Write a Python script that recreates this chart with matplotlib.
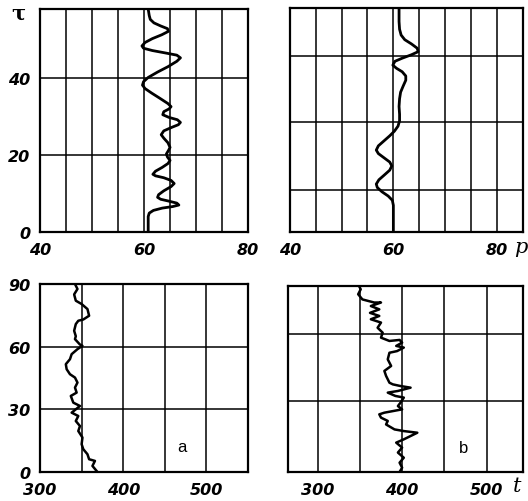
import matplotlib
matplotlib.use("Agg")
import matplotlib.pyplot as plt

# panel (upper left): p against tau
p_a = [60.8, 60.8, 61.0, 61.8, 63.5, 65.5, 66.7, 66.3, 64.8, 63.2, 62.6, 62.8, 63.8,
       65.2, 65.8, 65.2, 63.8, 62.2, 61.7, 62.2, 63.5, 64.6, 65.0, 64.5, 64.3, 64.7,
       65.0, 64.6, 63.8, 63.3, 63.8, 65.3, 66.6, 67.0, 66.4, 64.8, 63.6, 63.8, 64.8,
       65.2, 64.6, 62.9, 61.5, 60.2, 59.7, 59.9, 60.8, 62.6, 64.6, 66.3, 67.0, 66.3,
       64.0, 61.6, 59.9, 59.6, 60.2, 61.6, 63.4, 64.7, 64.5, 63.2, 61.9, 61.2, 61.0, 60.8]
tau_a = [0, 4.0, 4.9, 5.6, 6.2, 6.6, 7.0, 7.5, 8.0, 8.5, 9.0, 9.7, 10.7,
         11.8, 12.6, 13.4, 14.1, 14.6, 15.0, 15.8, 16.8, 17.8, 18.6, 19.5, 20.3, 21.2,
         22.0, 23.2, 24.4, 25.3, 26.3, 27.2, 27.9, 28.5, 29.2, 29.8, 30.5, 31.3, 32.0,
         32.6, 33.4, 34.9, 36.1, 37.3, 38.2, 39.1, 40.2, 41.6, 43.0, 44.4, 45.3, 46.0,
         46.6, 47.2, 47.8, 48.4, 49.3, 50.3, 51.3, 52.2, 52.9, 53.6, 54.4, 55.3, 56.3, 58.0]

# panel (upper right)
p_b = [60.0, 60.0, 59.8, 59.0, 57.8, 56.9, 56.7, 57.2, 58.3, 59.3, 59.7, 59.3, 58.2,
       57.1, 56.7, 57.1, 58.2, 59.3, 60.2, 60.9, 61.2, 61.2, 61.1, 61.2, 61.4, 61.9,
       62.4, 62.4, 61.7, 60.6, 59.9, 60.3, 61.7, 63.5, 64.8, 64.6, 63.5, 62.2, 61.5,
       61.2, 61.1, 61.1]
tau_b = [0, 6.9, 8.2, 9.3, 10.4, 11.5, 12.4, 13.5, 14.8, 16.0, 17.1, 18.1, 19.2,
         20.3, 21.2, 22.3, 23.6, 24.9, 26.1, 27.4, 28.8, 30.5, 32.5, 34.5, 36.2, 37.8,
         39.3, 40.4, 41.5, 42.4, 43.2, 44.2, 45.0, 45.9, 46.7, 47.6, 48.7, 49.8, 51.0,
         52.5, 54.5, 58.0]

# panel a (lower left): t against tau
t_a = [342, 345, 341, 343, 350, 357, 359, 352, 346, 343, 341, 343, 342, 348, 351,
       345, 338, 336, 331, 332, 336, 342, 345, 342, 344, 337, 340, 348, 338, 346,
       343, 348, 346, 351, 350, 352, 357, 359, 366, 363, 368]
tau_ta = [90, 87.6, 85, 82, 80.4, 78, 74.8, 73, 72.4, 70.8, 67.6, 65, 63.6, 61, 60.4,
          58.8, 56.4, 54, 51.6, 49.2, 46.8, 45.2, 42.8, 40.4, 38, 36.4, 33.2, 31.6, 28.4, 26.8,
          24.4, 22, 19.6, 16.5, 13.3, 10.9, 8.5, 6.1, 5.3, 2.9, 0.5]

# panel b (lower right)
t_b = [349, 351, 348, 353, 367, 375, 363, 373, 362, 373, 363, 375, 371, 377, 375,
       385, 397, 400, 393, 402, 394, 385, 383, 387, 379, 381, 385, 389, 398, 410,
       395, 383, 392, 402, 398, 395, 400, 379, 373, 375, 383, 381, 391, 402, 418,
       410, 402, 393, 400, 395, 402, 397, 400, 397]
tau_tb = [90, 88.4, 86, 83.5, 82, 82, 80.3, 78.7, 77, 75.5, 73.9, 72.3, 69.8, 67.4, 65,
          63.4, 63.9, 62.6, 61, 60.2, 58.5, 57.7, 54.5, 51.3, 48.9, 46.5, 43.2, 42.4, 41.6, 40.8,
          39.2, 38.4, 36.8, 36, 33.5, 31.9, 30.3, 28.7, 27.9, 26.3, 24.7, 23, 20.6, 19.8, 19,
          17.4, 15.8, 14.2, 11.8, 9.4, 6.9, 4.5, 2.1, 0]

tick_font = dict(family="DejaVu Sans", style="italic", weight="bold", size=11.5)

fig = plt.figure(figsize=(5.28, 5.02), dpi=100)

ax1 = fig.add_axes([0.0758, 0.536, 0.394, 0.444])
ax2 = fig.add_axes([0.549, 0.536, 0.441, 0.446])
ax3 = fig.add_axes([0.0758, 0.0578, 0.394, 0.3745])
ax4 = fig.add_axes([0.5455, 0.0578, 0.445, 0.3705])

for ax in [ax1, ax2, ax3, ax4]:
    for s in ax.spines.values():
        s.set_linewidth(1.6)
    ax.grid(True, color="black", linewidth=1.1)
    ax.tick_params(length=0, pad=7)
    ax.set_axisbelow(True)

ax1.plot(p_a, tau_a, color="black", linewidth=2)
ax1.set_xlim(40, 80)
ax1.set_ylim(0, 58)
ax1.set_xticks(range(40, 81, 5))
ax1.set_xticklabels(["40", "", "", "", "60", "", "", "", "80"], **tick_font)
ax1.set_yticks([0, 20, 40])
ax1.set_yticklabels(["0", "20", "40"], **tick_font)
ax1.text(-0.07, 0.985, "τ", transform=ax1.transAxes, ha="right", va="center",
         family="DejaVu Serif", weight="bold", size=15)

ax2.plot(p_b, tau_b, color="black", linewidth=2)
ax2.set_xlim(40, 85)
ax2.set_ylim(0, 58)
ax2.set_xticks(range(40, 86, 5))
ax2.set_xticklabels(["40", "", "", "", "60", "", "", "", "80", ""], **tick_font)
ax2.set_yticks([10.9, 28.5, 45.6])
ax2.set_yticklabels([])
ax2.text(0.99, -0.065, "p", transform=ax2.transAxes, ha="center", va="center",
         style="italic", family="DejaVu Serif", size=15)

ax3.plot(t_a, tau_ta, color="black", linewidth=1.8)
ax3.set_xlim(300, 550)
ax3.set_ylim(0, 90)
ax3.set_xticks(range(300, 551, 50))
ax3.set_xticklabels(["300", "", "400", "", "500", ""], **tick_font)
ax3.set_yticks([0, 30, 60, 90])
ax3.set_yticklabels(["0", "30", "60", "90"], **tick_font)
ax3.text(470, 12, "a", ha="center", va="center", family="Liberation Sans", size=12)

ax4.plot(t_b, tau_tb, color="black", linewidth=1.8)
ax4.set_xlim(265, 543)
ax4.set_ylim(0, 90)
ax4.set_xticks(range(300, 501, 50))
ax4.set_xticklabels(["300", "", "400", "", "500"], **tick_font)
ax4.set_yticks([34.5, 67])
ax4.set_yticklabels([])
ax4.text(473, 12, "b", ha="center", va="center", family="Liberation Sans", size=12)
ax4.text(0.975, -0.075, "t", transform=ax4.transAxes, ha="center", va="center",
         style="italic", family="DejaVu Serif", size=15)

fig.savefig("out.png", dpi=100)
